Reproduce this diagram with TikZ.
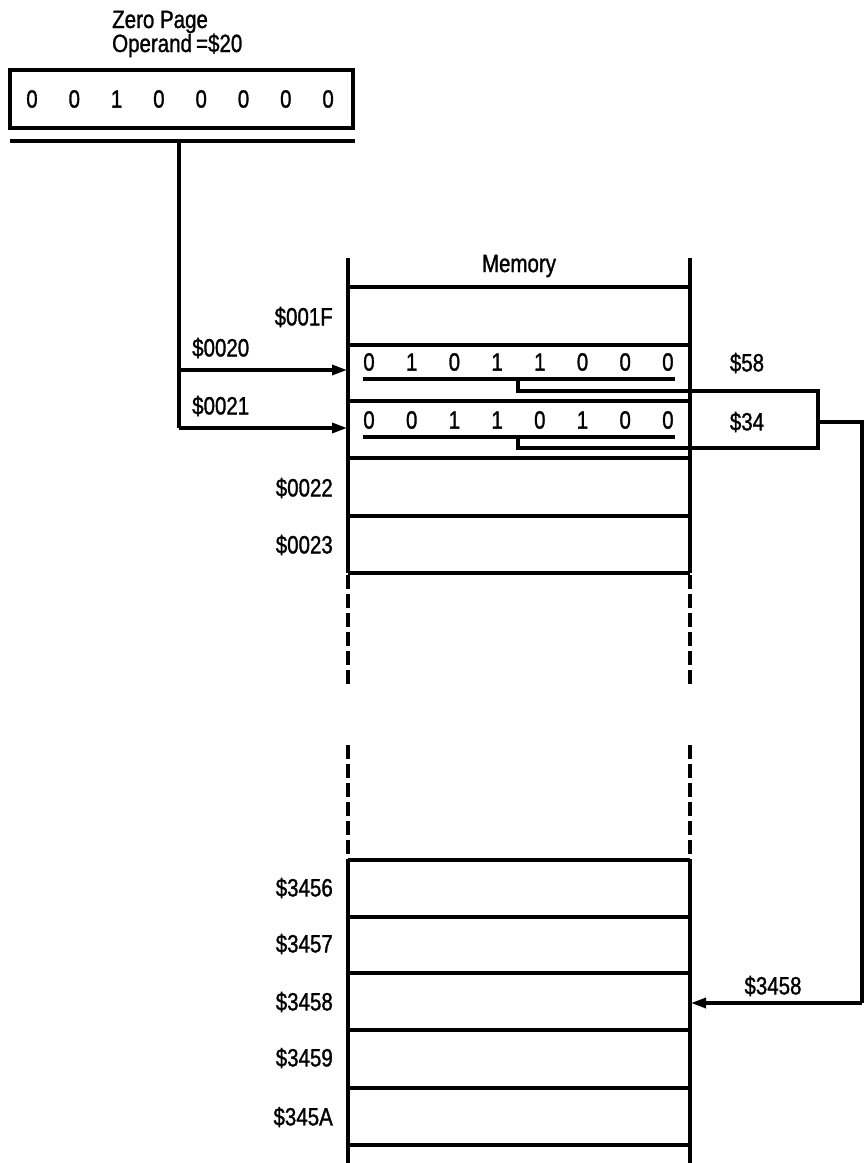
\documentclass[tikz,border=0pt]{standalone}
\usepackage{fontspec}
\setmainfont{Liberation Sans}[FakeStretch=0.82,FakeBold=1.2]
\usetikzlibrary{arrows.meta}
\begin{document}
\begin{tikzpicture}[x=1pt,y=-1pt,
  ln/.style={line width=3.2pt},
  thick box/.style={line width=4pt},
  arr/.style={ln,-{Triangle[length=15pt,width=10pt]}},
  txt/.style={inner sep=0pt,font=\fontsize{25}{29}\selectfont},
  bit/.style={txt},
  dsh/.style={ln,dash pattern=on 14pt off 5pt}]
\useasboundingbox (0,0) rectangle (864,1163);

% operand register
\node[txt,anchor=west,align=left] (title) at (112,34) {Zero Page\\[-5pt]Operand\,=\$20};
\node[thick box,draw,minimum width=343pt,minimum height=58pt,inner sep=0pt] (opreg) at (181.5,98.5) {};
\foreach \b [count=\i] in {0,0,1,0,0,0,0,0}
  \node[bit] (op\i) at ({32+42.3*(\i-1)},99) {\b};
\draw[thick box] (10,141) -- (355,141);
\coordinate (tap) at (179,141);

% memory columns
\node[txt] (memlabel) at (519,266) {Memory};
\foreach \x in {348,690}{
  \draw[ln] (\x,258) -- (\x,573);
  \draw[dsh] (\x,575) -- (\x,688);
  \draw[dsh] (\x,745) -- (\x,860);
  \draw[ln] (\x,860) -- (\x,1163);
}
\foreach \y in {287,345,401,458,516,573,860,917,973,1030,1088,1145}
  \draw[ln] (348,\y) -- (690,\y);

% address labels
\node[txt,anchor=east] (a1f) at (333,317) {\$001F};
\node[txt,anchor=east] (a22) at (333,488) {\$0022};
\node[txt,anchor=east] (a23) at (333,545) {\$0023};
\node[txt,anchor=east] (a56) at (333,888) {\$3456};
\node[txt,anchor=east] (a57) at (333,944) {\$3457};
\node[txt,anchor=east] (a58) at (333,1002) {\$3458};
\node[txt,anchor=east] (a59) at (333,1058) {\$3459};
\node[txt,anchor=east] (a5a) at (333,1117) {\$345A};
\node[txt,anchor=west] (a20) at (192,348) {\$0020};
\node[txt,anchor=west] (a21) at (192,406) {\$0021};

% memory contents
\foreach \b [count=\i] in {0,1,0,1,1,0,0,0}
  \node[bit] (m\i) at ({369+42.7*(\i-1)},362) {\b};
\foreach \b [count=\i] in {0,0,1,1,0,1,0,0}
  \node[bit] (n\i) at ({369+42.7*(\i-1)},420) {\b};
\draw[ln] (363,379) -- (675,379);
\draw[ln] (363,437) -- (675,437);
\node[txt] (v58) at (747,363) {\$58};
\node[txt] (v34) at (747,422) {\$34};

% pointer box
\coordinate (b1) at (518,379);
\coordinate (b2) at (518,437);
\coordinate (bx) at (818,422);
\draw[ln,line join=miter] (b1) -- (518,391) -- (818,391) -- (818,448) -- (518,448) -- (b2);

% connectors
\coordinate (t20) at (347,370);
\coordinate (t21) at (347,428);
\coordinate (t58) at (691,1003);
\draw[ln] (tap) -- (179,428);
\draw[arr] (179,370) -- (t20);
\draw[arr] (179,428) -- (t21);
\draw[ln] (bx) -- (862,422) -- (862,1003);
\draw[arr] (862,1003) -- (t58);
\node[txt] (r58) at (773,986) {\$3458};
\end{tikzpicture}
\end{document}
